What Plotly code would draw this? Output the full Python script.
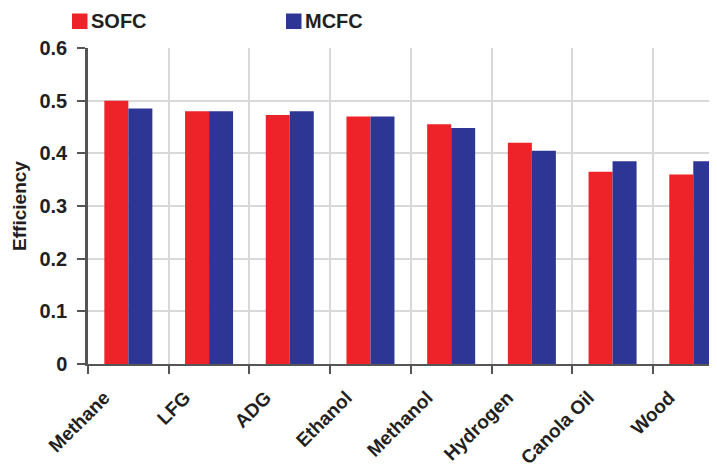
import plotly.graph_objects as go

categories = ["Methane", "LFG", "ADG", "Ethanol", "Methanol", "Hydrogen", "Canola Oil", "Wood"]
sofc = [0.50, 0.48, 0.473, 0.47, 0.455, 0.42, 0.365, 0.36]
mcfc = [0.485, 0.48, 0.48, 0.47, 0.448, 0.405, 0.385, 0.385]
series_names = ["SOFC", "MCFC"]
colors = ["#EE2229", "#2E3695"]
y_ticks = [0, 0.1, 0.2, 0.3, 0.4, 0.5, 0.6]
y_ticklabels = ["0", "0.1", "0.2", "0.3", "0.4", "0.5", "0.6"]

OFF = 8  # default page body margin
W, H = 717 - OFF, 470 - OFF
ML, MR, MT, MB = 88 - OFF, 0, 48 - OFF, 106
pw, ph = W - ML - MR, H - MT - MB

FONT = "Liberation Sans, Arial, sans-serif"
TXT = "#231f20"

fig = go.Figure()
for name, vals, col in zip(series_names, [sofc, mcfc], colors):
    fig.add_trace(go.Bar(x=categories, y=vals, name=name, marker=dict(color=col, line=dict(width=0)),
                         showlegend=False))

# manual legend (squares + text); positions given in page pixels
def px_x(p):
    return (p - OFF - ML) / pw

def px_y(p):
    return (H - MB - (p - OFF)) / ph

legend_pos = [72, 286]
for name, col, lx in zip(series_names, colors, legend_pos):
    fig.add_shape(type="rect", xref="paper", yref="paper",
                  x0=px_x(lx), x1=px_x(lx + 15.5), y0=px_y(29), y1=px_y(13.5),
                  fillcolor=col, line=dict(width=0))
    fig.add_annotation(xref="paper", yref="paper", x=px_x(lx + 17), y=px_y(21),
                       text="<b>" + name + "</b>",
                       showarrow=False, xanchor="left", yanchor="middle",
                       font=dict(family=FONT, size=20, color=TXT))

fig.update_layout(
    width=W, height=H,
    margin=dict(l=ML, r=MR, t=MT, b=MB, autoexpand=False),
    paper_bgcolor="white", plot_bgcolor="white",
    barmode="group", bargap=0.405, bargroupgap=0,
    font=dict(family=FONT, color=TXT),
    xaxis=dict(
        type="category", range=[-0.5, 7.294], automargin=False,
        tickson="boundaries", ticks="outside", ticklen=8, tickwidth=1.5, tickcolor="#555",
        showgrid=True, gridcolor="#d9d9d9", gridwidth=1.5,
        showline=True, linecolor="#555", linewidth=2,
        tickangle=-45, tickfont=dict(family=FONT, size=19, color=TXT),
        ticklabelshift=-24, ticklabelstandoff=13,
        tickvals=categories, ticktext=["<b>%s</b>" % c for c in categories],
    ),
    yaxis=dict(
        range=[0, 0.6], tickvals=y_ticks, ticktext=["<b>%s</b>" % t for t in y_ticklabels],
        automargin=False,
        ticks="outside", ticklen=8, tickwidth=1.5, tickcolor="#555",
        showgrid=True, gridcolor="#d9d9d9", gridwidth=1.5,
        showline=True, linecolor="#555", linewidth=2.5,
        tickfont=dict(family=FONT, size=20, color=TXT), ticklabelstandoff=6,
        title=dict(text="<b>Efficiency</b>", font=dict(family=FONT, size=19, color=TXT), standoff=8),
        zeroline=False,
    ),
)

fig.write_html("out.html")
